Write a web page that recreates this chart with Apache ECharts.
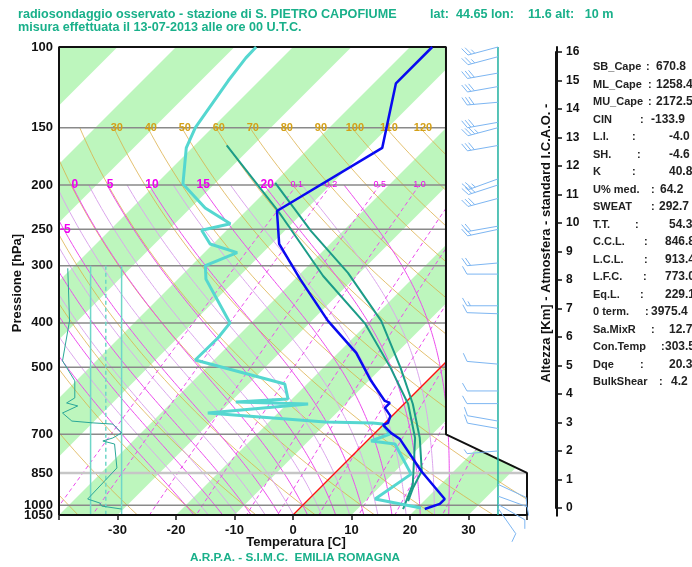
<!DOCTYPE html>
<html>
<head>
<meta charset="utf-8">
<title>Radiosondaggio S. Pietro Capofiume</title>
<script src="https://cdn.jsdelivr.net/npm/echarts@6.0.0/dist/echarts.min.js"></script>
<style>
html,body{margin:0;padding:0;background:#ffffff;}
#chart{width:692px;height:567px;}
</style>
</head>
<body>
<div id="chart"></div>
<script>
// ================= DATA =================
const pressureTicks = [100,150,200,250,300,400,500,700,850,1000,1050];
const isobarLevels  = [150,200,250,300,400,500,700,850,1000];

// observed temperature (blue)
const tempP = [100,120,166,228,269,321,396,465,535,592,598,613,638,661,668,695,717,842,969,993,1019];
const tempT = [-56.2,-56.2,-47.5,-54.7,-48.7,-39.1,-27.2,-16.9,-9.6,-3.8,-2.6,-2.6,-0.3,0.5,0.0,2.7,5.3,14.4,23.2,23.2,21.5];

// observed dew point (turquoise)
const dewP = [100,105.6,118.5,150,166,199,224.5,243,251,269,281,300,321,400,431,482,543.6,586,595,601,629,658,661,665,699,724,735,855,969,1014];
const dewT = [-86.3,-86.2,-85.3,-82.9,-81.0,-75.4,-67.5,-60.5,-64.3,-60.5,-54.4,-57.6,-55.2,-43.6,-43.1,-43.2,-23.8,-20.7,-29.1,-16.4,-32.0,-10.4,-2.1,-0.2,2.7,0.7,5.3,13.2,11.3,20.7];

// parcel curves (dark teal)
const parcelAP = [164,228,316,402,502,601,713,899,1019];
const parcelAT = [-74.5,-54.5,-35.7,-20.3,-8.4,0.7,7.7,15.2,17.8];
const parcelBP = [198,252,311,396,502,601,713,842,917,979];
const parcelBT = [-59.8,-45.5,-32.0,-18.1,-6.7,1.5,8.5,14.5,15.9,17.3];

// small humidity panel at the lower left (values on the temperature axis)
const humP = [304,396,484,535,583,598,607,629,655,661,665,695,713,724,735,829,969,989,1004,1019];
const humX = [-38.5,-38.2,-39.4,-37.3,-37.3,-38.7,-36.8,-39.4,-37.8,-34.2,-30.8,-29.3,-30.8,-32.5,-30.5,-30.1,-35.1,-33.0,-32.7,-29.3];
const humGuideX = [-34.6,-32.0,-29.3];
const humGuideTop = 300;

// wind (pressure, direction in degrees, speed in kt)
const windP   = [100,105,114,122,132,146,150,164,194,200,214,246,250,296,313,367,382,492,563,600,655,680,761,900,955,995,1015];
const windDir = [255,255,260,260,265,260,255,260,250,252,255,260,258,265,270,270,272,275,270,270,280,280,265,115,110,120,145];
const windSpd = [25,25,30,30,30,30,35,30,25,30,30,20,20,20,10,15,10,10,10,10,10,10,5,10,10,10,10];

// reference line families
const greenBandStarts = [-120,-100,-80,-60,-40,-20,0,20];
const thetaLines  = [-60,-50,-40,-30,-20,-10,0,10,20,30,40,50,60,70,80,90,100,110,120,130];
const thetaLabels = [30,40,50,60,70,80,90,100,110,120];
const moistLines  = [-20,-15,-10,-5,0,5,10,15,20,25];
const moistMinor  = [-17.5,-12.5,-7.5,-2.5,2.5,7.5,12.5,17.5,22.5];
const moistLabels = [-5,0,5,10,15,20];
const moistLabelP = [250,200,200,200,200,200];
const mixLines    = [0.1,0.2,0.5,1,2,3,5,8,12,20];
const mixLabels   = ['0.1','0.2','0.5','1.0'];

const kmMin = 0, kmMax = 16;

const statNames  = ['SB_Cape','ML_Cape','MU_Cape','CIN','L.I.','SH.','K','U% med.','SWEAT','T.T.','C.C.L.','L.C.L.','L.F.C.','Eq.L.','0 term.','Sa.MixR','Con.Temp','Dqe','BulkShear'];
const statValues = ['670.8','1258.4','2172.5','-133.9','-4.0','-4.6','40.8','64.2','292.7','54.3','846.8','913.4','773.0','229.1','3975.4','12.7','303.5','20.3','4.2'];

const titleMain = 'radiosondaggio osservato - stazione di S. PIETRO CAPOFIUME';
const titleGeo  = 'lat:  44.65 lon:    11.6 alt:   10 m';
const titleDate = 'misura effettuata il 13-07-2013 alle ore 00 U.T.C.';
const footer    = 'A.R.P.A. - S.I.M.C.  EMILIA ROMAGNA';
const xAxisTitle = 'Temperatura [C]';

// ================= LAYOUT / STYLE =================
const GRID = {left:59, top:47, width:468, height:468};
const T_MIN = -40, T_MAX = 40, P_TOP = 100, P_BOT = 1050;
const K = (GRID.height/Math.log(P_BOT/P_TOP)) / (GRID.width/(T_MAX-T_MIN)); // 45 degree skew
const RIGHT_TOP = 26.15, RIGHT_BOT = 40;    // right frame of the diagram (temperature-axis units)
const WIND_X = 35.04;                        // wind column base
const statColonX = [646,648,648,640,632,637,632,651,651,635,644,644,643,640,645,651,661,640,659];
const statValueX = [656,656,656,651,669,669,669,660,659,669,665,665,665,665,651,669,665,669,671];
const FONT = '"Liberation Sans", Arial, Helvetica, sans-serif';
const TEAL_TXT = '#19b08a';
const GREEN = '#bdf6bd';

// ================= helpers =================
const skewX = (T,p) => T + K*Math.log(P_BOT/p);
function rightBound(p){
  if (p <= 700) return RIGHT_TOP;
  if (p >= 850) return RIGHT_BOT;
  return RIGHT_TOP + (RIGHT_BOT-RIGHT_TOP)*Math.log(p/700)/Math.log(850/700);
}
function logSteps(p1,p2,n){ const a=[]; for(let i=0;i<=n;i++) a.push(p1*Math.pow(p2/p1,i/n)); return a; }
const dryT = (th,p) => (th+273.15)*Math.pow(p/1000,0.2857)-273.15;
const esat = Tc => 6.112*Math.exp(17.67*Tc/(Tc+243.5));
function mixT(w,p){ const e=w*p/(622+w); const l=Math.log(e/6.112); return 243.5*l/(17.67-l); }
function moistProfile(thw, pTop){
  const Rd=287.04, cp=1005.7, Lv=2.501e6, eps=0.622;
  const f=(T,p)=>{const e=esat(T-273.15); const rs=eps*e/(p-e); return (Rd*T+Lv*rs)/(p*(cp+Lv*Lv*rs*eps/(Rd*T*T)));};
  const step=(T,p,h)=>{const k1=f(T,p),k2=f(T+0.5*h*k1,p+0.5*h),k3=f(T+0.5*h*k2,p+0.5*h),k4=f(T+h*k3,p+h);return T+h*(k1+2*k2+2*k3+k4)/6;};
  const up=[]; let T=thw+273.15, p=1000; up.push([T,p]);
  while(p>pTop+1e-9){const h=-Math.min(5,p-pTop); T=step(T,p,h); p+=h; up.push([T,p]);}
  const down=[]; T=thw+273.15; p=1000;
  while(p<P_BOT-1e-9){const h=Math.min(5,P_BOT-p); T=step(T,p,h); p+=h; down.push([T,p]);}
  return up.reverse().concat(down).map(([T,p])=>[T-273.15,p]);
}
const toSkew = (Ts,Ps) => Ts.map((t,i)=>[skewX(t,Ps[i]),Ps[i]]);

function lineSeries(name, data, color, width, z, extra){
  return Object.assign({type:'line', name, data, showSymbol:false, symbol:'none', silent:true, z,
    lineStyle:{color, width}, animation:false}, extra||{});
}

// ================= build series =================
const series = [];

// green isotherm bands
series.push({
  type:'custom', name:'bands', z:1, clip:true, silent:true, animation:false,
  data: greenBandStarts.map(t=>[t,P_BOT]),
  renderItem(params, api){
    const t0 = api.value(0), top = K*Math.log(P_BOT/P_TOP);
    const pts = [[t0,P_BOT],[t0+10,P_BOT],[t0+10+top,P_TOP],[t0+top,P_TOP]].map(d=>api.coord(d));
    return {type:'polygon', shape:{points:pts}, style:{fill:GREEN}};
  }
});

// dry adiabats
thetaLines.forEach(th=>{
  series.push(lineSeries('theta'+th, logSteps(150,P_BOT,60).map(p=>[skewX(dryT(th,p),p),p]), '#dcae45', 0.9, 2,
    {lineStyle:{color:'#dcae45', width:0.9, opacity:0.85}}));
});
// moist adiabats
moistMinor.forEach(tw=>{
  series.push(lineSeries('thwm'+tw, moistProfile(tw,200).map(d=>[skewX(d[0],d[1]),d[1]]), '#dba6ec', 1, 2));
});
const moistCurves = {};
moistLines.forEach(tw=>{
  const prof = moistProfile(tw,200);
  moistCurves[tw] = prof;
  series.push(lineSeries('thw'+tw, prof.map(d=>[skewX(d[0],d[1]),d[1]]), '#ec4dec', 1, 2));
});
// mixing ratio lines
mixLines.forEach(w=>{
  series.push(lineSeries('w'+w, logSteps(200,P_BOT,40).map(p=>[skewX(mixT(w,p),p),p]), '#ec4dec', 1, 2,
    {lineStyle:{color:'#ec4dec', width:1, type:[4,3]}}));
});
// 0 C isotherm
series.push(lineSeries('zero', [[skewX(0,P_BOT),P_BOT],[skewX(0,300),300]], '#ff1010', 1.3, 3));

// isobars
series.push({
  type:'custom', name:'isobars', z:3, silent:true, animation:false,
  data: isobarLevels.map(p=>[T_MIN,p]),
  renderItem(params, api){
    const p = api.value(1);
    const a = api.coord([T_MIN,p]), b = api.coord([rightBound(p),p]);
    const light = p===850;
    return {type:'line', shape:{x1:a[0],y1:a[1],x2:b[0],y2:b[1]},
      style:{stroke: light?'#c6c6c6':'#8a8a8a', lineWidth: light?2.5:1.5}};
  }
});

// mask outside diagram polygon (right top)
series.push({
  type:'custom', name:'mask', z:5, silent:true, animation:false,
  data:[[RIGHT_TOP,P_TOP]],
  renderItem(params, api){
    const pts=[[RIGHT_TOP,P_TOP],[T_MAX,P_TOP],[T_MAX,850],[RIGHT_TOP,700]].map(d=>api.coord(d));
    pts[1][0]+=3; pts[1][1]-=3; pts[2][0]+=3; pts[0][1]-=3;
    return {type:'polygon', shape:{points:pts}, style:{fill:'#ffffff'}};
  }
});

// labels of reference lines
const refLabels = [];
thetaLabels.forEach(th=>refLabels.push({x:skewX(dryT(th,150),150), p:150, dx:3, text:String(th), color:'#d4a017', size:11, weight:'bold', align:'center'}));
moistLabels.forEach((tw,i)=>{
  const lp = moistLabelP[i];
  const pt = moistCurves[tw].reduce((a,b)=>Math.abs(b[1]-lp)<Math.abs(a[1]-lp)?b:a);
  const x = tw<0 ? T_MIN : skewX(pt[0],lp);
  refLabels.push({x, p:lp, dx: tw<0?1:3, text:String(tw), color:'#f000f0', size:12, weight:'bold', align: tw<0?'left':'center'});
});
mixLabels.forEach((s,i)=>refLabels.push({x:skewX(mixT(mixLines[i],200),200), p:200, dx:0, text:s, color:'#f000f0', size:9, weight:'normal', align:'center'}));
series.push({
  type:'custom', name:'refLabels', z:6, silent:true, animation:false,
  data: refLabels.map(l=>[l.x,l.p]),
  renderItem(params, api){
    const l = refLabels[params.dataIndex];
    const c = api.coord([api.value(0), api.value(1)]);
    return {type:'text', x:c[0]+l.dx, y:c[1], style:{text:l.text, fill:l.color, align:l.align, verticalAlign:'middle',
      font:l.weight+' '+l.size+'px '+FONT}};
  }
});

// humidity panel
humGuideX.forEach((x,i)=>{
  series.push(lineSeries('hg'+i, [[x,humGuideTop],[x,P_BOT]], '#6fd6c8', 1.5, 4,
    {lineStyle:{color:'#6fd6c8', width:1.5, type: i===1?[4,3]:'solid'}}));
});
series.push(lineSeries('hum', humX.map((x,i)=>[x,humP[i]]), '#2aa898', 1, 4));

// frame
series.push(lineSeries('frame', [[T_MIN,P_BOT],[T_MIN,P_TOP],[RIGHT_TOP,P_TOP],[RIGHT_TOP,700],[RIGHT_BOT,850],[RIGHT_BOT,P_BOT],[T_MIN,P_BOT]],
  '#111111', 2, 8, {clip:false}));

// wind column line
series.push(lineSeries('windAxis', [[WIND_X,P_TOP],[WIND_X,P_BOT]], '#1fb0a0', 1.5, 8, {clip:false}));

// sounding curves
series.push(lineSeries('parcelA', toSkew(parcelAT,parcelAP), '#1c9c88', 2, 9));
series.push(lineSeries('parcelB', toSkew(parcelBT,parcelBP), '#1c9c88', 2, 9));
series.push(lineSeries('dew', toSkew(dewT,dewP), '#55d7d0', 3, 10));
series.push(lineSeries('temp', toSkew(tempT,tempP), '#0a0af0', 2.5, 11));

// wind barbs
series.push({
  type:'custom', name:'wind', z:9, silent:true, animation:false, clip:false,
  data: windP.map((p,i)=>[WIND_X,p,windDir[i],windSpd[i]]),
  renderItem(params, api){
    const base = api.coord([api.value(0), api.value(1)]);
    const d = api.value(2)*Math.PI/180, spd = api.value(3);
    const L = 31, ux = Math.sin(d), uy = -Math.cos(d);
    const px = -uy, py = ux;
    const tip = [base[0]+ux*L, base[1]+uy*L];
    const st = {stroke:'#7db6f2', lineWidth:1};
    const ch = [{type:'line', shape:{x1:base[0],y1:base[1],x2:tip[0],y2:tip[1]}, style:st}];
    let n10 = Math.floor(spd/10), half = (spd%10)>=5, k=0;
    for(let i=0;i<n10;i++,k++){
      const s=[tip[0]-ux*k*3.5, tip[1]-uy*k*3.5];
      ch.push({type:'line', shape:{x1:s[0],y1:s[1],x2:s[0]+9*(px*0.87+ux*0.5),y2:s[1]+9*(py*0.87+uy*0.5)}, style:st});
    }
    if(half){
      const s=[tip[0]-ux*k*3.5, tip[1]-uy*k*3.5];
      ch.push({type:'line', shape:{x1:s[0],y1:s[1],x2:s[0]+5*(px*0.87+ux*0.5),y2:s[1]+5*(py*0.87+uy*0.5)}, style:st});
    }
    return {type:'group', children:ch};
  }
});

// pressure labels
series.push({
  type:'custom', name:'pLabels', z:8, silent:true, animation:false, clip:false,
  data: pressureTicks.map(p=>[T_MIN,p]),
  renderItem(params, api){
    const c = api.coord([api.value(0), api.value(1)]);
    return {type:'text', x:c[0]-6, y:c[1], style:{text:String(api.value(1)), fill:'#111', align:'right', verticalAlign:'middle',
      font:'bold 13px '+FONT}};
  }
});

// km axis line extension (the axis line runs a little past 0 and 16)
series.push(lineSeries('kmLine', [[1,-0.3],[1,16.2]], '#111111', 2, 3, {xAxisIndex:1, yAxisIndex:1, clip:false}));

// ================= graphic texts =================
const graphic = [
  {type:'text', x:18, y:15, style:{text:titleMain, fill:TEAL_TXT, font:'bold 12.6px '+FONT, verticalAlign:'middle'}},
  {type:'text', x:430, y:15, style:{text:titleGeo, fill:TEAL_TXT, font:'bold 12.6px '+FONT, verticalAlign:'middle'}},
  {type:'text', x:18, y:28, style:{text:titleDate, fill:TEAL_TXT, font:'bold 12.6px '+FONT, verticalAlign:'middle'}},
  {type:'text', x:295, y:558, style:{text:footer, fill:TEAL_TXT, font:'bold 11.8px '+FONT, align:'center', verticalAlign:'middle'}},
  {type:'text', x:296, y:542, style:{text:xAxisTitle, fill:'#111', font:'bold 13px '+FONT, align:'center', verticalAlign:'middle'}},
  {type:'text', x:17, y:283, rotation:Math.PI/2, style:{text:'Pressione [hPa]', fill:'#111', font:'bold 13px '+FONT, align:'center', verticalAlign:'middle'}},
  {type:'text', x:504, y:165, rotation:Math.PI/2, style:{text:'vento  [gradi , Kt ]', fill:'#111', font:'13px '+FONT, align:'center', verticalAlign:'middle'}},
  {type:'text', x:546, y:243, rotation:Math.PI/2, style:{text:'Altezza [Km] - Atmosfera - standard I.C.A.O. -', fill:'#111', font:'bold 13px '+FONT, align:'center', verticalAlign:'middle'}}
];
statNames.forEach((n,i)=>{
  const y = 67 + 17.5*i;
  graphic.push({type:'text', x:593, y, style:{text:n, fill:'#222', font:'bold 11px '+FONT, verticalAlign:'middle'}});
  graphic.push({type:'text', x:statColonX[i], y, style:{text:':', fill:'#222', font:'bold 11px '+FONT, verticalAlign:'middle'}});
  graphic.push({type:'text', x:statValueX[i], y, style:{text:statValues[i], fill:'#222', font:'bold 12px '+FONT, verticalAlign:'middle'}});
});

// ================= option =================
const option = {
  animation:false,
  backgroundColor:'#ffffff',
  grid:[
    {left:GRID.left, top:GRID.top, width:GRID.width, height:GRID.height},
    {left:556, top:52, width:1, height:456}
  ],
  xAxis:[
    {type:'value', gridIndex:0, min:T_MIN, max:T_MAX, interval:10,
     axisLine:{show:false}, splitLine:{show:false},
     axisTick:{show:true, length:5, lineStyle:{color:'#111', width:1.5}},
     axisLabel:{margin:9, color:'#111', fontWeight:'bold', fontSize:13, fontFamily:FONT,
       formatter: v => (v===T_MIN||v===T_MAX)?'':String(v)}},
    {type:'value', gridIndex:1, min:0, max:1, show:false}
  ],
  yAxis:[
    {type:'log', gridIndex:0, logBase:10, min:P_TOP, max:P_BOT, inverse:true,
     axisLine:{show:false}, axisTick:{show:false}, axisLabel:{show:false}, splitLine:{show:false}},
    {type:'value', gridIndex:1, position:'right', min:kmMin, max:kmMax, interval:1,
     axisLine:{show:true, lineStyle:{color:'#111', width:2}},
     axisTick:{show:true, length:6, lineStyle:{color:'#111', width:1.5}},
     axisLabel:{margin:9, color:'#111', fontWeight:'bold', fontSize:12, fontFamily:FONT},
     splitLine:{show:false}}
  ],
  series,
  graphic
};
const chart = echarts.init(document.getElementById('chart'));
chart.setOption(option);
</script>
</body>
</html>
